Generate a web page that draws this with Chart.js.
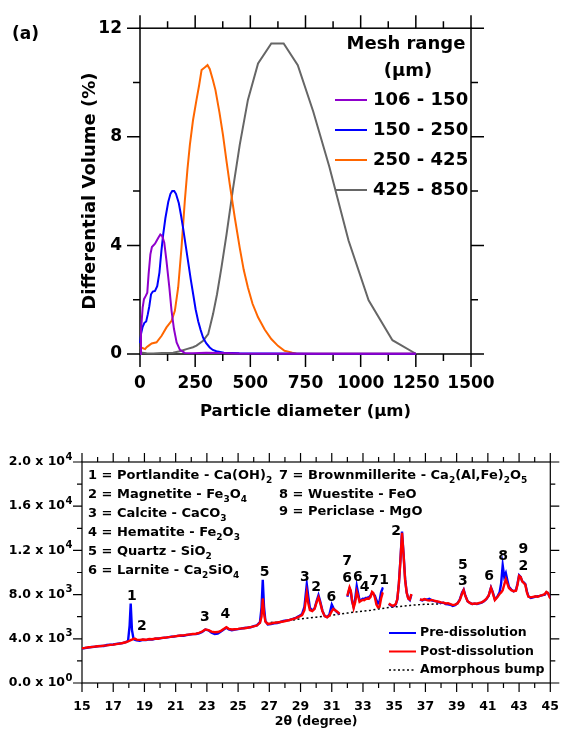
<!DOCTYPE html>
<html>
<head>
<meta charset="utf-8">
<script src="https://cdn.jsdelivr.net/npm/chart.js@4.4.1/dist/chart.umd.min.js"></script>
<style>
  body { margin: 0; background: #fff; }
  #wrap { position: relative; width: 575px; height: 729px; }
  canvas { position: absolute; left: 0; }
  #psd { top: 0; }
  #xrd { top: 440px; }
</style>
</head>
<body>
<div id="wrap">
  <canvas id="psd" width="575" height="430"></canvas>
  <canvas id="xrd" width="575" height="289"></canvas>
</div>
<script>
// ---- particle size distributions (diameter in um, differential volume in %) ----
const meshLabels = ['106 - 150', '150 - 250', '250 - 425', '425 - 850'];
const meshColors = ['#8F00CC', '#0000FF', '#FF6600', '#666666'];

const size106 = [0, 4.5, 12, 18, 26, 33, 39, 47, 54, 68, 83, 92, 101, 110, 120, 133, 143, 154, 166, 181, 203, 240, 300, 360, 450, 700, 1000, 1250];
const vol106 = [0, 0.86, 1.71, 2.02, 2.14, 2.26, 2.94, 3.67, 3.94, 4.06, 4.28, 4.4, 4.34, 4.1, 3.43, 2.45, 1.59, 0.92, 0.43, 0.15, 0.04, 0.03, 0.05, 0.04, 0.02, 0.01, 0.01, 0.01];

const size150 = [0, 5, 12, 20, 28, 35, 42, 50, 58, 68, 78, 88, 97, 105, 115, 128, 138, 146, 155, 163, 176, 186, 196, 207, 218, 230, 241, 252, 264, 275, 286, 300, 316, 330, 346, 380, 450, 600, 800, 1250];
const vol150 = [0.4, 0.75, 1.0, 1.15, 1.2, 1.45, 1.75, 2.2, 2.3, 2.32, 2.5, 3.0, 3.8, 4.4, 5.0, 5.6, 5.9, 6.0, 6.0, 5.9, 5.55, 5.1, 4.6, 4.0, 3.4, 2.75, 2.2, 1.65, 1.2, 0.88, 0.6, 0.4, 0.24, 0.15, 0.1, 0.05, 0.03, 0.02, 0.01, 0.01];

const size250 = [0, 11, 23, 30, 38, 53, 75, 98, 120, 143, 158, 173, 188, 203, 215, 226, 240, 256, 268, 279, 293, 306, 316, 330, 342, 360, 376, 392, 407, 430, 452, 470, 489, 510, 535, 565, 595, 625, 655, 690, 708, 760, 1250];
const vol250 = [0.25, 0.22, 0.18, 0.25, 0.3, 0.39, 0.43, 0.67, 0.98, 1.22, 1.59, 2.45, 3.91, 5.63, 6.8, 7.7, 8.6, 9.36, 9.9, 10.46, 10.55, 10.64, 10.5, 10.1, 9.72, 8.9, 8.07, 7.1, 6.24, 5.0, 3.91, 3.1, 2.45, 1.85, 1.35, 0.9, 0.55, 0.3, 0.12, 0.05, 0.02, 0.01, 0.01];

const size425 = [0, 30, 60, 100, 150, 180, 211, 240, 256, 286, 309, 331, 349, 369, 392, 422, 452, 489, 535, 595, 651, 715, 785, 858, 945, 1036, 1144, 1252];
const vol425 = [0.06, 0.03, 0.02, 0.04, 0.05, 0.1, 0.18, 0.25, 0.31, 0.49, 0.73, 1.47, 2.2, 3.18, 4.4, 6.12, 7.7, 9.36, 10.7, 11.44, 11.44, 10.64, 8.93, 6.9, 4.18, 1.98, 0.51, 0.0];

// ---- XRD patterns (2-theta in degrees, counts) ----
const twoTheta = [
  15.0, 15.2, 15.4, 15.6, 15.8, 16.0, 16.2, 16.4, 16.6, 16.8, 17.0, 17.2, 17.4, 17.6, 17.8, 17.95,
  18.05, 18.12, 18.2, 18.3, 18.4, 18.5, 18.7, 18.9, 19.1, 19.3, 19.5, 19.7, 19.9, 20.1, 20.3, 20.5,
  20.7, 20.9, 21.1, 21.3, 21.5, 21.7, 21.9, 22.1, 22.3, 22.5, 22.7, 22.9, 23.1, 23.3, 23.5, 23.7,
  23.9, 24.1, 24.25, 24.4, 24.6, 24.8, 25.0, 25.2, 25.4, 25.6, 25.8, 26.0, 26.2, 26.4, 26.5, 26.58,
  26.66, 26.75, 26.9, 27.1, 27.3, 27.5, 27.7, 27.9, 28.1, 28.3, 28.5, 28.7, 28.9, 29.1, 29.25, 29.4,
  29.5, 29.6, 29.75, 29.9, 30.05, 30.15, 30.25, 30.4, 30.55, 30.7, 30.85, 31.0, 31.1, 31.2, 31.35, 31.5,
  31.7,
  32.0, 32.06, 32.14, 32.22, 32.3, 32.4, 32.5, 32.6, 32.68, 32.78, 32.88, 32.98, 33.08, 33.18, 33.28, 33.38,
  33.48, 33.58, 33.66, 33.76, 33.86, 33.96, 34.06, 34.16, 34.25, 34.3,
  34.5,
  34.65, 34.8, 34.95, 35.1, 35.2, 35.3, 35.4, 35.5, 35.6, 35.7, 35.8, 35.9, 36.0, 36.1,
  36.35,
  36.65, 36.8, 36.95, 37.1, 37.25, 37.4, 37.55, 37.7, 37.85, 38.0, 38.15, 38.3, 38.45, 38.6, 38.75, 38.9,
  39.05, 39.2, 39.35, 39.45, 39.55, 39.7, 39.85, 40.0, 40.15, 40.3, 40.45, 40.6, 40.75, 40.9, 41.05, 41.2,
  41.3, 41.45, 41.6, 41.75, 41.85, 41.95, 42.05, 42.15, 42.25, 42.35, 42.5, 42.65, 42.8, 42.9, 43.0, 43.1,
  43.2, 43.3, 43.4, 43.5, 43.6, 43.75, 43.9, 44.05, 44.2, 44.35, 44.5, 44.65, 44.75, 44.85, 44.95, 45.0
];
const preCounts = [
  3120, 3170, 3200, 3260, 3270, 3330, 3360, 3350, 3440, 3460, 3480, 3540, 3580, 3610, 3700, 3800,
  5200, 7200, 4800, 3980, 3900, 3870, 3830, 3910, 3880, 3950, 3930, 4000, 4040, 4060, 4110, 4130,
  4190, 4200, 4270, 4290, 4280, 4340, 4380, 4420, 4440, 4500, 4620, 4830, 4760, 4550, 4440, 4480,
  4650, 4870, 5000, 4850, 4780, 4830, 4880, 4920, 4980, 5010, 5040, 5150, 5220, 5500, 6800, 9350,
  6900, 5600, 5300, 5330, 5400, 5430, 5500, 5620, 5650, 5720, 5800, 5900, 6050, 6250, 6900, 8950,
  7800, 6800, 6550, 6750, 7500, 7950, 7450, 6550, 6050, 5960, 6200, 7100, 6800, 6600, 6400, 6250,
  null,
  7800, 8150, 8550, 8250, 7400, 6900, 7600, 8780, 8200, 7500, 7520, 7620, 7600, 7700, 7720, 7760,
  7900, 8150, 8050, 7900, 7500, 7200, 7400, 8200, 8550, 8500,
  null,
  7150, 7000, 6950, 7100, 7550, 9000, 11200, 13700, 11700, 9400, 8200, 7650, 7500, 8000,
  null,
  7550, 7480, 7580, 7550, 7620, 7480, 7430, 7380, 7300, 7250, 7260, 7150, 7120, 7080, 6980, 7050,
  7200, 7550, 8200, 8450, 7950, 7400, 7250, 7150, 7180, 7150, 7200, 7280, 7400, 7580, 7900, 8650,
  8300, 7550, 7800, 8200, 9000, 10650, 9600, 9950, 9300, 8700, 8450, 8300, 8400, 9000, 9750, 9600,
  9200, 9100, 8950, 8300, 7850, 7700, 7750, 7820, 7850, 7880, 7950, 8000, 8200, 8150, 7850, 7700
];
const postCounts = [
  3150, 3180, 3230, 3250, 3290, 3320, 3340, 3380, 3410, 3450, 3470, 3520, 3560, 3620, 3690, 3760,
  3820, 3880, 3930, 4000, 4010, 3930, 3900, 3930, 3910, 3980, 3960, 4030, 4010, 4080, 4090, 4150,
  4170, 4220, 4250, 4300, 4310, 4360, 4400, 4430, 4460, 4530, 4660, 4850, 4790, 4650, 4590, 4610,
  4720, 4900, 5040, 4900, 4840, 4870, 4900, 4940, 4960, 5000, 5060, 5120, 5200, 5450, 6000, 7650,
  6300, 5550, 5350, 5380, 5450, 5470, 5520, 5560, 5630, 5700, 5790, 5880, 6000, 6150, 6600, 8150,
  7200, 6600, 6500, 6700, 7400, 7750, 7300, 6500, 6050, 5950, 6100, 6500, 6700, 6600, 6450, 6250,
  null,
  7900, 8250, 8650, 8350, 7500, 6780, 7300, 8250, 7900, 7350, 7450, 7520, 7500, 7600, 7640, 7620,
  7780, 8250, 8150, 7750, 7100, 6850, 6900, 7650, 8100, 8050,
  null,
  7200, 7050, 6980, 7150, 7600, 9000, 11100, 13600, 11600, 9300, 8150, 7650, 7550, 8050,
  null,
  7570, 7520, 7600, 7500, 7460, 7520, 7450, 7400, 7350, 7300, 7280, 7200, 7220, 7150, 7050, 7100,
  7200, 7500, 8100, 8400, 7900, 7400, 7250, 7150, 7200, 7180, 7250, 7300, 7420, 7600, 7900, 8600,
  8200, 7500, 7750, 8050, 8200, 8400, 8900, 9400, 9000, 8600, 8400, 8300, 8350, 8900, 9700, 9600,
  9200, 9050, 8900, 8200, 7800, 7750, 7800, 7850, 7800, 7900, 7950, 8050, 8250, 8150, 7800, 7650
];
const bumpTheta = [26.8, 27.5, 28.0, 28.5, 29.0, 29.5, 30.0, 30.5, 31.0, 31.5, 32.0, 32.5, 33.0, 33.5, 34.0, 34.5, 35.0, 35.5, 36.0, 36.5, 37.0, 37.5, 38.0];
const bumpCounts = [5450, 5520, 5600, 5700, 5800, 5880, 5960, 6040, 6130, 6220, 6330, 6420, 6500, 6590, 6700, 6800, 6880, 6950, 7020, 7080, 7120, 7140, 7150];

// peak assignments written above the reflections
const peakTheta = [18.2, 18.83, 22.87, 24.19, 26.7, 29.28, 30.0, 30.97, 31.98, 31.98, 32.67, 33.1, 33.72, 34.35, 35.12, 39.4, 39.4, 41.08, 41.98, 43.28, 43.28];
const peakLevel = [7850, 5150, 5970, 6215, 10050, 9600, 8690, 7720, 11040, 9500, 9520, 8660, 9170, 9320, 13700, 10680, 9230, 9620, 11430, 12100, 10520];
const peakTag = ['1', '2', '3', '4', '5', '3', '2', '6', '7', '6', '6', '4', '7', '1', '2', '5', '3', '6', '8', '9', '2'];

const phaseLeft = ['1 = Portlandite - Ca(OH)_2', '2 = Magnetite - Fe_3O_4', '3 = Calcite - CaCO_3', '4 = Hematite - Fe_2O_3', '5 = Quartz - SiO_2', '6 = Larnite - Ca_2SiO_4'];
const phaseRight = ['7 = Brownmillerite - Ca_2(Al,Fe)_2O_5', '8 = Wuestite - FeO', '9 = Periclase - MgO'];

const FONT = '"DejaVu Sans", "Liberation Sans", sans-serif';
const pairs = (xs, ys) => xs.map((v, i) => ({ x: v, y: ys[i] }));

// box frame with outward major/minor ticks on all four sides
const frameTicks = {
  id: 'frameTicks',
  beforeDatasetsDraw(chart, args, o) {
    const { ctx, chartArea: a, scales: { x, y } } = chart;
    ctx.save();
    ctx.strokeStyle = '#000';
    ctx.lineWidth = o.width;
    ctx.strokeRect(a.left, a.top, a.right - a.left, a.bottom - a.top);
    ctx.beginPath();
    const nx = Math.round((x.max - x.min) / o.xMinor);
    for (let i = 0; i <= nx; i++) {
      const px = x.getPixelForValue(x.min + i * o.xMinor);
      const len = i % o.xEvery === 0 ? o.major : o.minor;
      ctx.moveTo(px, a.bottom); ctx.lineTo(px, a.bottom + len);
      ctx.moveTo(px, a.top); ctx.lineTo(px, a.top - len);
    }
    const ny = Math.round((y.max - y.min) / o.yMinor);
    for (let i = 0; i <= ny; i++) {
      const py = y.getPixelForValue(y.min + i * o.yMinor);
      const len = i % o.yEvery === 0 ? o.major : o.minor;
      ctx.moveTo(a.left, py); ctx.lineTo(a.left - len, py);
      ctx.moveTo(a.right, py); ctx.lineTo(a.right + len, py);
    }
    ctx.stroke();
    ctx.restore();
  }
};

// text with chemical subscripts written as _n
function richText(ctx, str, x, y, size) {
  const parts = str.split(/(_\d)/);
  let cx = x;
  parts.forEach(p => {
    if (!p) return;
    if (p[0] === '_') {
      ctx.font = 'bold ' + Math.round(size * 0.68) + 'px ' + FONT;
      ctx.fillText(p.slice(1), cx, y + size * 0.32);
      cx += ctx.measureText(p.slice(1)).width;
    } else {
      ctx.font = 'bold ' + size + 'px ' + FONT;
      ctx.fillText(p, cx, y);
      cx += ctx.measureText(p).width;
    }
  });
}

const meshKey = {
  id: 'meshKey',
  afterDraw(chart) {
    const ctx = chart.ctx;
    ctx.save();
    ctx.fillStyle = '#000';
    ctx.textBaseline = 'middle';
    ctx.font = 'bold 17px ' + FONT;
    ctx.textAlign = 'left';
    ctx.fillText('(a)', 12, 35);
    ctx.font = 'bold 18px ' + FONT;
    ctx.textAlign = 'center';
    ctx.fillText('Mesh range', 406, 44);
    ctx.fillText('(\u03bcm)', 408, 71);
    ctx.textAlign = 'left';
    chart.data.datasets.forEach((ds, i) => {
      const yy = 100 + i * 30;
      ctx.strokeStyle = ds.borderColor;
      ctx.lineWidth = 2;
      ctx.beginPath();
      ctx.moveTo(335, yy);
      ctx.lineTo(367, yy);
      ctx.stroke();
      ctx.fillText(ds.label, 373, yy);
    });
    ctx.restore();
  }
};

// y tick labels in "m.m x 10^e" form with a raised exponent
function sciParts(v) {
  const e = v === 0 ? 0 : Math.floor(Math.log10(v));
  return [(v / Math.pow(10, e)).toFixed(1) + ' x 10', String(e)];
}

const xrdNotes = {
  id: 'xrdNotes',
  afterDraw(chart) {
    const { ctx, chartArea: a, scales: { x, y } } = chart;
    ctx.save();
    ctx.fillStyle = '#000';
    ctx.textBaseline = 'middle';

    ctx.textAlign = 'left';
    y.ticks.forEach(t => {
      const [base, exp] = sciParts(t.value);
      const py = y.getPixelForValue(t.value);
      ctx.font = 'bold 12.5px ' + FONT;
      const wb = ctx.measureText(base).width;
      ctx.font = 'bold 10px ' + FONT;
      const we = ctx.measureText(exp).width;
      const x0 = a.left - 10 - wb - we;
      ctx.font = 'bold 12.5px ' + FONT;
      ctx.fillText(base, x0, py);
      ctx.font = 'bold 10px ' + FONT;
      ctx.fillText(exp, x0 + wb + 0.5, py - 5);
    });

    phaseLeft.forEach((t, i) => richText(ctx, t, a.left + 6, a.top + 14 + i * 19, 13));
    phaseRight.forEach((t, i) => richText(ctx, t, a.left + 197, a.top + 14 + i * 19 - (i === 2 ? 2 : 0), 13));

    ctx.font = 'bold 14px ' + FONT;
    ctx.textAlign = 'center';
    peakTag.forEach((t, i) => ctx.fillText(t, x.getPixelForValue(peakTheta[i]), y.getPixelForValue(peakLevel[i])));

    // series key
    ctx.textAlign = 'left';
    ctx.font = 'bold 12.5px ' + FONT;
    chart.data.datasets.forEach((ds, i) => {
      const yy = a.top + 171 + i * 18.5;
      ctx.strokeStyle = ds.borderColor;
      ctx.lineWidth = ds.borderDash ? 1.5 : 2;
      ctx.setLineDash(ds.borderDash || []);
      ctx.beginPath();
      ctx.moveTo(a.left + 307, yy);
      ctx.lineTo(a.left + 334, yy);
      ctx.stroke();
      ctx.fillText(ds.label, a.left + 338, yy);
    });
    ctx.restore();
  }
};

new Chart(document.getElementById('psd'), {
  type: 'line',
  data: {
    datasets: [
      { label: meshLabels[0], data: pairs(size106, vol106), borderColor: meshColors[0], order: 0 },
      { label: meshLabels[1], data: pairs(size150, vol150), borderColor: meshColors[1], order: 1 },
      { label: meshLabels[2], data: pairs(size250, vol250), borderColor: meshColors[2], order: 2 },
      { label: meshLabels[3], data: pairs(size425, vol425), borderColor: meshColors[3], order: 3 }
    ]
  },
  options: {
    responsive: false,
    animation: false,
    devicePixelRatio: 1,
    layout: { padding: { left: 0, right: 104, top: 26, bottom: 0 } },
    elements: { line: { borderWidth: 2, tension: 0 }, point: { radius: 0 } },
    datasets: { line: { clip: 3 } },
    plugins: {
      legend: { display: false },
      tooltip: { enabled: false },
      frameTicks: { width: 1.5, major: 13, minor: 7, xMinor: 125, xEvery: 2, yMinor: 2, yEvery: 2 }
    },
    scales: {
      x: {
        type: 'linear', min: 0, max: 1500,
        afterFit: s => { s.height = 76; },
        grid: { display: false, drawTicks: false },
        border: { display: false },
        ticks: { stepSize: 250, autoSkip: false, maxRotation: 0, padding: 19, color: '#000', font: { family: FONT, size: 17, weight: 'bold' }, callback: v => String(v) },
        title: { display: true, text: 'Particle diameter (\u03bcm)', color: '#000', padding: { top: 0, bottom: 8 }, font: { family: FONT, size: 16.5, weight: 'bold' } }
      },
      y: {
        min: 0, max: 12,
        afterFit: s => { s.width = 140; },
        grid: { display: false, drawTicks: false },
        border: { display: false },
        ticks: { stepSize: 4, padding: 18, color: '#000', font: { family: FONT, size: 17, weight: 'bold' } },
        title: { display: true, text: 'Differential Volume (%)', color: '#000', padding: { top: 80, bottom: 0 }, font: { family: FONT, size: 18, weight: 'bold' } }
      }
    }
  },
  plugins: [frameTicks, meshKey]
});

new Chart(document.getElementById('xrd'), {
  type: 'line',
  data: {
    datasets: [
      { label: 'Pre-dissolution', data: pairs(twoTheta, preCounts), borderColor: '#0000FF', order: 2 },
      { label: 'Post-dissolution', data: pairs(twoTheta, postCounts), borderColor: '#FF0000', order: 1 },
      { label: 'Amorphous bump', data: pairs(bumpTheta, bumpCounts), borderColor: '#000000', borderWidth: 1.5, borderDash: [2, 2.5], order: 3 }
    ]
  },
  options: {
    responsive: false,
    animation: false,
    devicePixelRatio: 1,
    layout: { padding: { left: 0, right: 11, top: 22, bottom: 0 } },
    elements: { line: { borderWidth: 2.4, tension: 0 }, point: { radius: 0 } },
    plugins: {
      legend: { display: false },
      tooltip: { enabled: false },
      frameTicks: { width: 1.2, major: 9, minor: 5, xMinor: 1, xEvery: 2, yMinor: 2000, yEvery: 2 }
    },
    scales: {
      x: {
        type: 'linear', min: 15, max: 45,
        afterFit: s => { s.height = 46; },
        grid: { display: false, drawTicks: false },
        border: { display: false },
        ticks: { stepSize: 2, autoSkip: false, maxRotation: 0, padding: 16, color: '#000', font: { family: FONT, size: 12.5, weight: 'bold' } },
        title: { display: true, text: '2\u03b8 (degree)', color: '#000', padding: { top: 0, bottom: 0 }, font: { family: FONT, size: 12.5, weight: 'bold' } }
      },
      y: {
        min: 0, max: 20000,
        afterFit: s => { s.width = 82; },
        grid: { display: false, drawTicks: false },
        border: { display: false },
        // labels are drawn by xrdNotes so the exponent can be raised
        ticks: { stepSize: 4000, callback: () => '' }
      }
    }
  },
  plugins: [frameTicks, xrdNotes]
});
</script>
</body>
</html>
